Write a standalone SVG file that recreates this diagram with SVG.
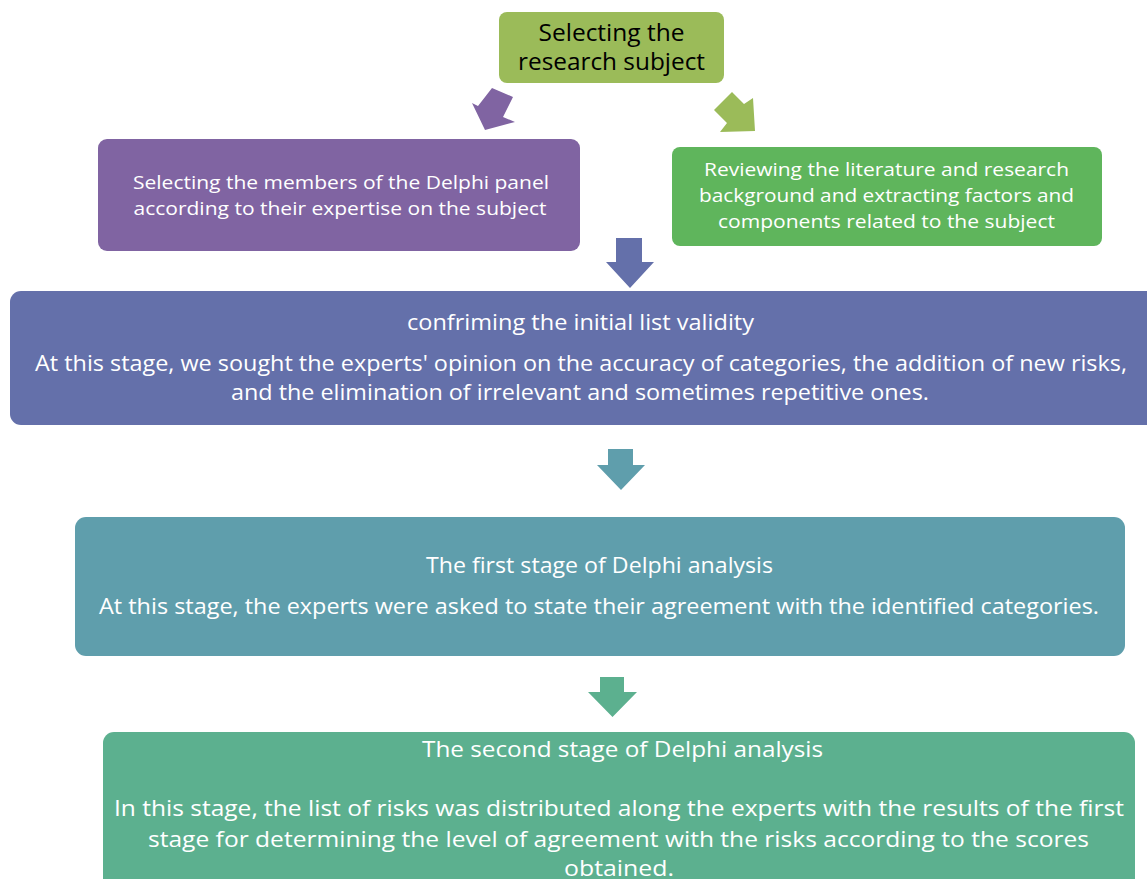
<svg xmlns="http://www.w3.org/2000/svg" width="1147" height="879" viewBox="0 0 1147 879">
<style>
text{font-family:"Open Sans","Noto Sans",sans-serif;text-anchor:middle}
.w{fill:#ffffff}
.k{fill:#000000}
.s17{font-size:18.5px}
.s20{font-size:21px}
.s22{font-size:23px}
</style>
<rect width="1147" height="879" fill="#ffffff"/>
<g id="connectors">
<polygon points="492,88 513,97 503,117 515,122 485,130 472,103 478,106" fill="#8064A2"/>
<polygon points="714,110 732,92 744,104 753,98 755,131 720,132 727,123" fill="#9BBB59"/>
<polygon points="616,238 642,238 642,262 654,262 630,288 606,262 616,262" fill="#6470AA"/>
<polygon points="608,449 633,449 633,465 645,465 621,490 597,465 608,465" fill="#5F9EAC"/>
<polygon points="600,677 624,677 624,692 637,692 612.5,717 588,692 600,692" fill="#5CB08F"/>
</g>
<g id="node-topic">
<rect x="499" y="12" width="225" height="71" rx="8" fill="#9BBB59"/>
<text class="k s22" x="611.5" y="41" textLength="146" lengthAdjust="spacingAndGlyphs">Selecting the</text>
<text class="k s22" x="611.5" y="70" textLength="187" lengthAdjust="spacingAndGlyphs">research subject</text>
</g>
<g id="node-panel">
<rect x="98" y="139" width="482" height="112" rx="9" fill="#8064A2"/>
<text class="w s17" x="341" y="189" textLength="416" lengthAdjust="spacingAndGlyphs">Selecting the members of the Delphi panel</text>
<text class="w s17" x="340" y="215" textLength="413" lengthAdjust="spacingAndGlyphs">according to their expertise on the subject</text>
</g>
<g id="node-literature">
<rect x="672" y="147" width="430" height="99" rx="8" fill="#5FB55C"/>
<text class="w s17" x="886.5" y="176" textLength="365" lengthAdjust="spacingAndGlyphs">Reviewing the literature and research</text>
<text class="w s17" x="886.5" y="202" textLength="375" lengthAdjust="spacingAndGlyphs">background and extracting factors and</text>
<text class="w s17" x="886.5" y="228" textLength="337" lengthAdjust="spacingAndGlyphs">components related to the subject</text>
</g>
<g id="node-validity">
<rect x="10" y="291" width="1150" height="134" rx="11" fill="#6470AA"/>
<text class="w s20" x="580.5" y="330" textLength="347" lengthAdjust="spacingAndGlyphs">confriming the initial list validity</text>
<text class="w s20" x="581" y="371" textLength="1092" lengthAdjust="spacingAndGlyphs">At this stage, we sought the experts' opinion on the accuracy of categories, the addition of new risks,</text>
<text class="w s20" x="580" y="400" textLength="698" lengthAdjust="spacingAndGlyphs">and the elimination of irrelevant and sometimes repetitive ones.</text>
</g>
<g id="node-first-stage">
<rect x="75" y="517" width="1050" height="139" rx="11" fill="#5F9EAC"/>
<text class="w s20" x="599.5" y="573" textLength="347" lengthAdjust="spacingAndGlyphs">The first stage of Delphi analysis</text>
<text class="w s20" x="599" y="614" textLength="1000" lengthAdjust="spacingAndGlyphs">At this stage, the experts were asked to state their agreement with the identified categories.</text>
</g>
<g id="node-second-stage">
<rect x="103" y="732" width="1032" height="170" rx="11" fill="#5CB08F"/>
<text class="w s20" x="622.5" y="757" textLength="401" lengthAdjust="spacingAndGlyphs">The second stage of Delphi analysis</text>
<text class="w s20" x="619" y="816" textLength="1010" lengthAdjust="spacingAndGlyphs">In this stage, the list of risks was distributed along the experts with the results of the first</text>
<text class="w s20" x="618.5" y="847" textLength="941" lengthAdjust="spacingAndGlyphs">stage for determining the level of agreement with the risks according to the scores</text>
<text class="w s20" x="619" y="876" textLength="110" lengthAdjust="spacingAndGlyphs">obtained.</text>
</g>
</svg>
